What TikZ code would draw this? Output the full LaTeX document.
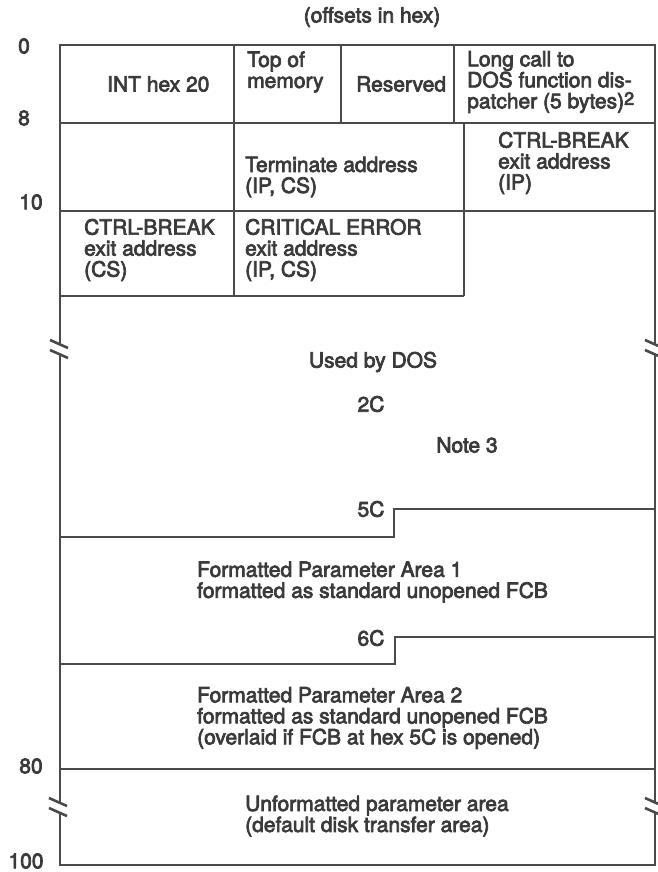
\documentclass[tikz,border=0pt]{standalone}
\usepackage{fontspec}
\newfontfamily\diagfont{TeX Gyre Heros}
\newcommand{\heavytext}{\special{pdf:literal direct 2 Tr 0.7 w}}
\definecolor{ink}{HTML}{3A3A3A}
\definecolor{rulec}{HTML}{4A4A4A}
\begin{document}
\begin{tikzpicture}[x=1pt,y=-1pt,
  rulel/.style={draw=rulec,line width=2.8pt,line join=miter},
  brk/.style={draw=rulec,line width=2.6pt},
  txt/.style={font=\diagfont\fontsize{21}{21}\selectfont\heavytext,text=ink,inner sep=0pt,align=left,anchor=west},
  ctr/.style={font=\diagfont\fontsize{21}{21}\selectfont\heavytext,text=ink,inner sep=0pt}]
\useasboundingbox (0,0) rectangle (657,872);
% outer frame with breaks
\draw[rulel] (60,344) -- (60,45) -- (655,45) -- (655,344);
\draw[rulel] (60,354) -- (60,803);
\draw[rulel] (655,354) -- (655,803);
\draw[rulel] (60,813) -- (60,865) -- (655,865) -- (655,813);
% break marks
\draw[brk] (50,340) -- (68,348);
\draw[brk] (50,350) -- (68,358);
\draw[brk] (645,340) -- (663,348);
\draw[brk] (645,350) -- (663,358);
\draw[brk] (49,798) -- (67,806);
\draw[brk] (49,808) -- (67,816);
\draw[brk] (645,798) -- (663,806);
\draw[brk] (645,808) -- (663,816);
% rows
\draw[rulel] (60,123) -- (655,123);
\draw[rulel] (60,211) -- (655,211);
\draw[rulel] (60,296) -- (464,296);
\draw[rulel] (234,45) -- (234,296);
\draw[rulel] (341,45) -- (341,123);
\draw[rulel] (454,45) -- (454,123);
\draw[rulel] (464,123) -- (464,296);
\draw[rulel] (60,537) -- (394,537) -- (394,509) -- (655,509);
\draw[rulel] (60,664) -- (395,664) -- (395,637) -- (655,637);
\draw[rulel] (60,769) -- (655,769);
% title and offsets
\node[ctr] (title) at (372,17) {(offsets in hex)};
\node[ctr] (o0) at (24,46) {0};
\node[ctr] (o8) at (24,118) {8};
\node[ctr] (o10) at (31,202) {10};
\node[ctr] (o80) at (31,766) {80};
\node[ctr] (o100) at (26,861) {100};
% cell texts
\node[txt] (int) at (107,84) {INT hex 20};
\node[txt] (top) at (247,72) {Top of\\memory};
\node[txt] (res) at (356,84) {Reserved};
\node[txt] (long) at (467,82) {Long call to\\DOS function dis-\\patcher (5 bytes)\raisebox{3.5pt}{\fontsize{18}{18}\selectfont 2}};
\node[txt] (term) at (245,177) {Terminate address\\(IP, CS)};
\node[txt] (cbip) at (498,163) {CTRL-BREAK\\exit address\\(IP)};
\node[txt] (cbcs) at (84,250) {CTRL-BREAK\\exit address\\(CS)};
\node[txt] (crit) at (245,250) {CRITICAL ERROR\\exit address\\(IP, CS)};
\node[ctr] (dos) at (373,362) {Used by DOS};
\node[ctr] (c2c) at (371,404) {2C};
\node[ctr] (note) at (467,445) {Note 3};
\node[ctr] (c5c) at (371,509) {5C};
\node[txt] (fpa1) at (197,582) {Formatted Parameter Area 1\\formatted as standard unopened FCB};
\node[ctr] (c6c) at (371,638) {6C};
\node[txt] (fpa2) at (197,718) {Formatted Parameter Area 2\\formatted as standard unopened FCB\\(overlaid if FCB at hex 5C is opened)};
\node[txt] (unf) at (245,816) {Unformatted parameter area\\(default disk transfer area)};
\end{tikzpicture}
\end{document}
